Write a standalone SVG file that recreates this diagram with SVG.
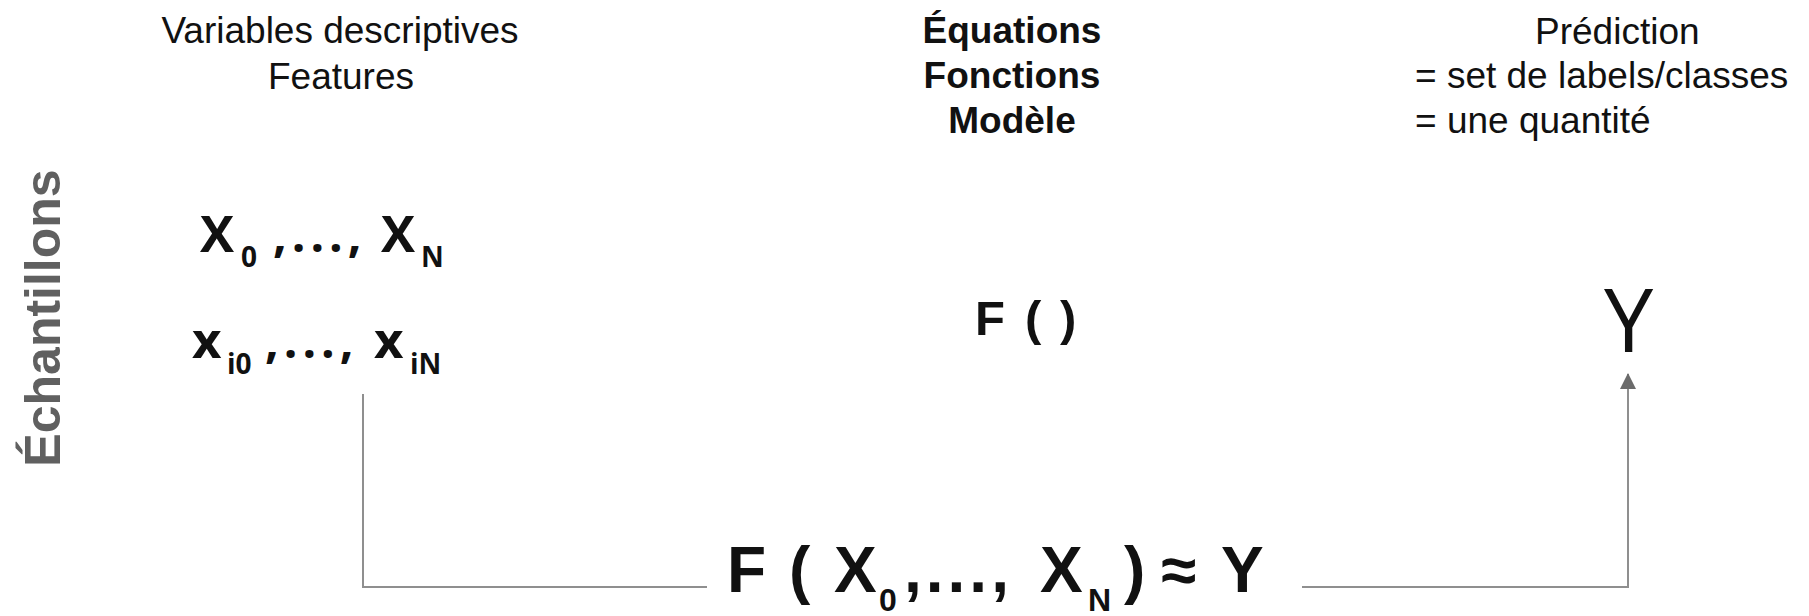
<svg xmlns="http://www.w3.org/2000/svg" width="1809" height="616" viewBox="0 0 1809 616">
<style>
.lbl{font-family:"Liberation Sans",Arial,sans-serif;font-size:37px;fill:#111}
.bold{font-weight:bold}
.var{font-family:"Open Sans","Liberation Sans",sans-serif;font-weight:bold;font-size:48px;fill:#111}
.big{font-size:51px}
.sub{font-size:28px}
.eq{font-family:"Liberation Sans",Arial,sans-serif;font-weight:bold;fill:#111}
.conn{fill:none;stroke:#8f8f8f;stroke-width:2}
</style>
<defs>
<marker id="arr" markerUnits="userSpaceOnUse" markerWidth="16" markerHeight="16" refX="15" refY="8" orient="auto">
<path d="M0,0 L16,8 L0,16 z" fill="#6b6b6b"/>
</marker>
</defs>
<rect width="1809" height="616" fill="#fff"/>

<g id="connectors">
<path class="conn" d="M363,394 V587 H1628 V374" marker-end="url(#arr)"/>
</g>

<g id="header-features">
<text class="lbl" text-anchor="middle" x="340" y="43">Variables descriptives</text>
<text class="lbl" text-anchor="middle" x="341" y="89">Features</text>
</g>

<g id="header-model">
<text class="lbl bold" text-anchor="middle" x="1012" y="43">Équations</text>
<text class="lbl bold" text-anchor="middle" x="1012" y="88">Fonctions</text>
<text class="lbl bold" text-anchor="middle" x="1012" y="133">Modèle</text>
</g>

<g id="header-prediction">
<text class="lbl" x="1535" y="44">Prédiction</text>
<text class="lbl" x="1415" y="88">= set de labels/classes</text>
<text class="lbl" x="1415" y="133">= une quantité</text>
</g>

<g id="samples-label">
<text class="lbl bold" text-anchor="middle" transform="translate(60,318) rotate(-90)" style="font-size:50px;fill:#606060">Échantillons</text>
</g>

<g id="features-vars">
<text class="var"><tspan class="big" x="200" y="252">X</tspan><tspan class="sub" x="241" y="267">0</tspan><tspan x="273" y="252" letter-spacing="5">,...,</tspan><tspan class="big" x="381" y="252">X</tspan><tspan class="sub" x="421" y="267">N</tspan></text>
</g>

<g id="sample-vars">
<text class="var"><tspan class="big" x="192" y="358">x</tspan><tspan class="sub" x="227" y="374">i0</tspan><tspan x="265" y="358" letter-spacing="5">,...,</tspan><tspan class="big" x="374" y="358">x</tspan><tspan class="sub" x="410" y="374">iN</tspan></text>
</g>

<g id="function">
<text class="eq" style="font-size:49px"><tspan x="975" y="335">F</tspan><tspan x="1025" y="335">(</tspan><tspan x="1060" y="335">)</tspan></text>
</g>

<g id="prediction">
<text x="1604" y="352" style="font-family:'Open Sans','Liberation Sans',sans-serif;font-size:88px;fill:#111">Y</text>
</g>

<g id="formula">
<rect x="707" y="540" width="595" height="76" fill="#fff"/>
<text class="eq" style="font-size:64px"><tspan x="727" y="592">F</tspan><tspan x="789" y="592">(</tspan><tspan x="834" y="592">X</tspan><tspan x="879" y="611" style="font-size:32px">0</tspan><tspan x="904" y="592" letter-spacing="4">,...,</tspan><tspan x="1040" y="592">X</tspan><tspan x="1088" y="611" style="font-size:32px">N</tspan><tspan x="1124" y="592">)</tspan><tspan x="1161" y="592">≈</tspan><tspan x="1221" y="592">Y</tspan></text>
</g>
</svg>
